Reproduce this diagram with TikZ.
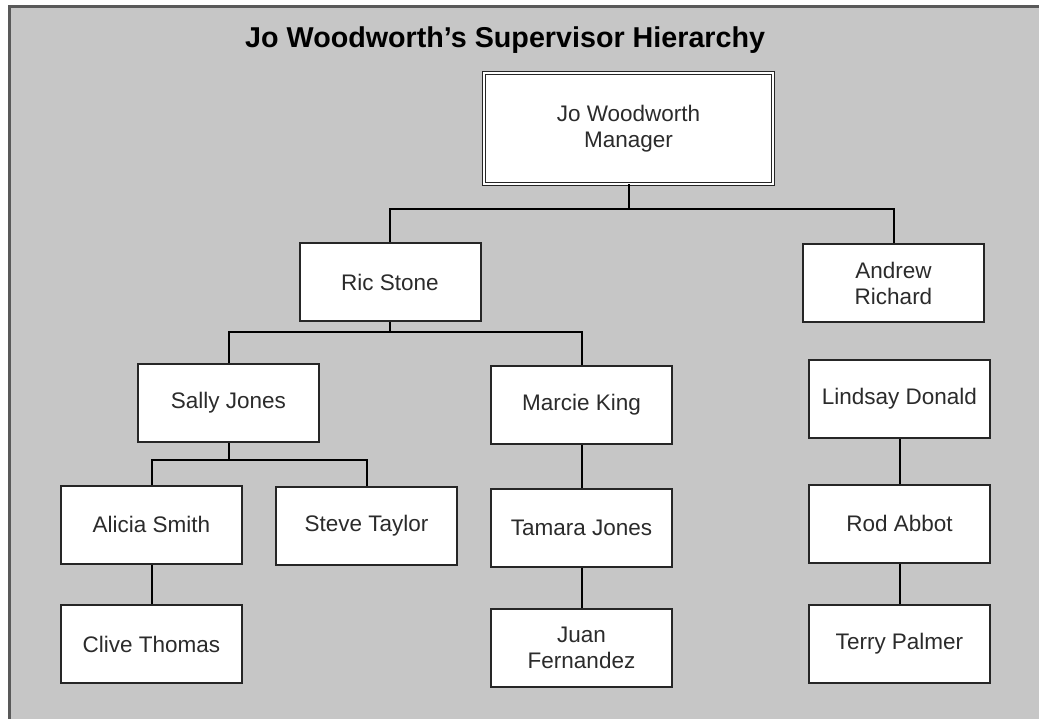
\documentclass[tikz,border=0pt]{standalone}
\usepackage{fontspec}
\setmainfont{Liberation Sans}
\definecolor{panel}{HTML}{C6C6C6}
\definecolor{boxtext}{HTML}{2B2B2B}
\begin{document}
\begin{tikzpicture}[x=1pt,y=-1pt,
  person/.style={draw=black!85, line width=2pt, fill=white, text=boxtext,
    minimum width=181pt, minimum height=78pt, inner sep=0pt, align=center,
    font=\fontsize{22.5}{26}\selectfont},
  headbox/.style={person, draw=black!85, line width=1.3pt, double=white,
    double distance=1.8pt, minimum width=288.6pt, minimum height=110.6pt},
  link/.style={draw=black, line width=2pt}]
\useasboundingbox (0,0) rectangle (1039,719);
\clip (0,0) rectangle (1039,719);
% background panel (runs off the right and bottom edges)
\draw[fill=panel, draw=black!65, line width=2.2pt] (9.5,6.5) rectangle (1080,760);
% title
\node[anchor=base west, inner sep=0pt, font=\bfseries\fontsize{28.7}{31}\selectfont]
  (title) at (245,48) {Jo Woodworth’s Supervisor Hierarchy};
% people
\node[headbox] (jo) at (628.5,128.5) {Jo Woodworth\\Manager};
\node[person] (ric) at (390,282) {Ric Stone};
\node[person] (andrew) at (893.5,283.5) {Andrew\\Richard};
\node[person] (sally) at (228.5,403) {Sally Jones};
\node[person] (marcie) at (581.5,405) {Marcie King};
\node[person] (lindsay) at (899.5,399) {Lindsay Donald};
\node[person] (alicia) at (151.5,524.5) {Alicia Smith};
\node[person] (steve) at (366.5,525.5) {Steve Taylor};
\node[person] (tamara) at (581.5,527.5) {Tamara Jones};
\node[person] (rod) at (899.5,523.5) {Rod Abbot};
\node[person] (clive) at (151.5,644) {Clive Thomas};
\node[person] (juan) at (581.5,647.5) {Juan\\Fernandez};
\node[person] (terry) at (899.5,644) {Terry Palmer};
% reporting lines
\coordinate (joBar) at (628.5,209);
\coordinate (ricBar) at (390,332);
\coordinate (sallyBar) at (228.5,460);
\draw[link] (jo.south) -- (joBar);
\draw[link] (ric.north) |- (joBar) -| (andrew.north);
\draw[link] (ric.south) -- (ricBar);
\draw[link] (sally.north) |- (ricBar) -| (marcie.north);
\draw[link] (sally.south) -- (sallyBar);
\draw[link] (alicia.north) |- (sallyBar) -| (steve.north);
\draw[link] (alicia.south) -- (clive.north);
\draw[link] (marcie.south) -- (tamara.north);
\draw[link] (tamara.south) -- (juan.north);
\draw[link] (lindsay.south) -- (rod.north);
\draw[link] (rod.south) -- (terry.north);
\end{tikzpicture}
\end{document}
